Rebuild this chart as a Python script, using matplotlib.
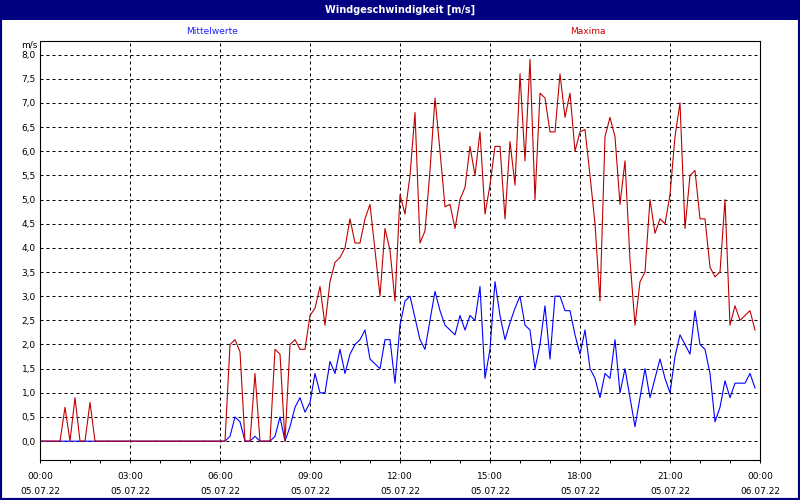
import numpy as np
import pandas as pd
import matplotlib
matplotlib.use('Agg')
import matplotlib.pyplot as plt
import matplotlib.dates as mdates
from matplotlib.patches import Rectangle
from matplotlib.ticker import MultipleLocator, FuncFormatter

# 10-minute values, 05.07.22 00:00 .. 23:50 (6 values per hour)
times = pd.date_range('2022-07-05 00:00', periods=144, freq='10min')

maxima = [
    0, 0, 0, 0, 0, 0.7,            # 00h
    0, 0.9, 0, 0, 0.8, 0,          # 01h
    0, 0, 0, 0, 0, 0,              # 02h
    0, 0, 0, 0, 0, 0,              # 03h
    0, 0, 0, 0, 0, 0,              # 04h
    0, 0, 0, 0, 0, 0,              # 05h
    0, 0, 2.0, 2.1, 1.85, 0,       # 06h
    0, 1.4, 0, 0, 0, 1.9,          # 07h
    1.8, 0, 2.0, 2.1, 1.9, 1.9,    # 08h
    2.6, 2.75, 3.2, 2.4, 3.3, 3.7, # 09h
    3.8, 4.0, 4.6, 4.1, 4.1, 4.6,  # 10h
    4.9, 3.95, 3.0, 4.4, 3.95, 2.9,  # 11h
    5.1, 4.7, 5.5, 6.8, 4.1, 4.35,   # 12h
    5.6, 7.1, 6.0, 4.85, 4.9, 4.4,   # 13h
    5.0, 5.25, 6.1, 5.5, 6.4, 4.7,   # 14h
    5.3, 6.1, 6.1, 4.6, 6.2, 5.3,    # 15h
    7.6, 5.8, 7.9, 5.0, 7.2, 7.1,    # 16h
    6.4, 6.4, 7.6, 6.7, 7.2, 6.0,    # 17h
    6.4, 6.45, 5.5, 4.5, 2.9, 6.3,   # 18h
    6.7, 6.3, 4.9, 5.8, 3.75, 2.4,   # 19h
    3.3, 3.5, 5.0, 4.3, 4.6, 4.5,    # 20h
    5.1, 6.3, 7.0, 4.4, 5.5, 5.6,    # 21h
    4.6, 4.6, 3.6, 3.4, 3.5, 5.0,    # 22h
    2.4, 2.8, 2.5, 2.6, 2.7, 2.3,    # 23h
]

mittelwerte = [
    0, 0, 0, 0, 0, 0,              # 00h
    0, 0, 0, 0, 0, 0,              # 01h
    0, 0, 0, 0, 0, 0,              # 02h
    0, 0, 0, 0, 0, 0,              # 03h
    0, 0, 0, 0, 0, 0,              # 04h
    0, 0, 0, 0, 0, 0,              # 05h
    0, 0, 0.1, 0.5, 0.4, 0,        # 06h
    0, 0.1, 0, 0, 0, 0.1,          # 07h
    0.5, 0, 0.3, 0.7, 0.9, 0.6,    # 08h
    0.8, 1.4, 1.0, 1.0, 1.65, 1.4, # 09h
    1.9, 1.4, 1.8, 2.0, 2.1, 2.3,  # 10h
    1.7, 1.6, 1.5, 2.1, 2.1, 1.2,  # 11h
    2.4, 2.9, 3.0, 2.55, 2.1, 1.9, # 12h
    2.5, 3.1, 2.7, 2.4, 2.3, 2.2,  # 13h
    2.6, 2.3, 2.6, 2.5, 3.2, 1.3,  # 14h
    1.9, 3.3, 2.6, 2.1, 2.45, 2.75,  # 15h
    3.0, 2.4, 2.3, 1.5, 2.0, 2.8,  # 16h
    1.7, 3.0, 3.0, 2.7, 2.7, 2.2,  # 17h
    1.8, 2.3, 1.5, 1.3, 0.9, 1.4,  # 18h
    1.3, 2.1, 1.0, 1.5, 0.9, 0.3,  # 19h
    0.9, 1.5, 0.9, 1.3, 1.7, 1.3,  # 20h
    1.0, 1.75, 2.2, 2.0, 1.8, 2.7, # 21h
    2.0, 1.9, 1.4, 0.4, 0.7, 1.25, # 22h
    0.9, 1.2, 1.2, 1.2, 1.4, 1.1,  # 23h
]

title = 'Windgeschwindigkeit [m/s]'
navy = '#000080'
fs = 6.5

fig = plt.figure(figsize=(8, 5), dpi=100)
fig.patch.set_facecolor('white')

# title bar and window border
fig.patches.append(Rectangle((0, 1 - 20 / 500), 1, 20 / 500, transform=fig.transFigure,
                             facecolor=navy, edgecolor='none', zorder=0))
fig.patches.append(Rectangle((0, 0), 1, 1, transform=fig.transFigure, fill=False,
                             edgecolor=navy, lw=3, zorder=5))
fig.text(0.5, 1 - 9.5 / 500, title, color='white', fontsize=7, fontweight='bold',
         ha='center', va='center')
fig.text(212 / 800, 1 - 31 / 500, 'Mittelwerte', color='#2020ff', fontsize=fs,
         ha='center', va='center')
fig.text(588 / 800, 1 - 31 / 500, 'Maxima', color='#cc0000', fontsize=fs,
         ha='center', va='center')
fig.text(37 / 800, 1 - 45 / 500, 'm/s', color='black', fontsize=fs,
         ha='right', va='center')

ax = fig.add_axes([40 / 800, 40 / 500, 720 / 800, 419 / 500])
ax.plot(times, mittelwerte, color='#0000ff', lw=0.8)
ax.plot(times, maxima, color='#c00000', lw=0.8)

ax.set_xlim(pd.Timestamp('2022-07-05 00:00'), pd.Timestamp('2022-07-06 00:00'))
ax.set_ylim(-0.39, 8.28)

ax.xaxis.set_major_locator(mdates.HourLocator(byhour=range(0, 24, 3)))
ax.xaxis.set_minor_locator(mdates.HourLocator())
ax.xaxis.set_major_formatter(mdates.DateFormatter('%H:%M\n%d.%m.%y'))
ax.yaxis.set_major_locator(MultipleLocator(0.5))
ax.yaxis.set_major_formatter(FuncFormatter(lambda v, _: f'{v:.1f}'.replace('.', ',')))

ax.grid(which='major', color='black', linestyle=(0, (3, 3)), lw=0.72)
ax.tick_params(axis='x', which='both', direction='out', length=2.5, width=0.72,
               labelsize=fs, pad=6)
ax.tick_params(axis='y', length=0, labelsize=fs, pad=3)
for lbl in ax.get_xticklabels():
    lbl.set_linespacing(1.9)
for sp in ax.spines.values():
    sp.set_linewidth(0.8)
    sp.set_color('black')

fig.savefig('out.png', dpi=100)
